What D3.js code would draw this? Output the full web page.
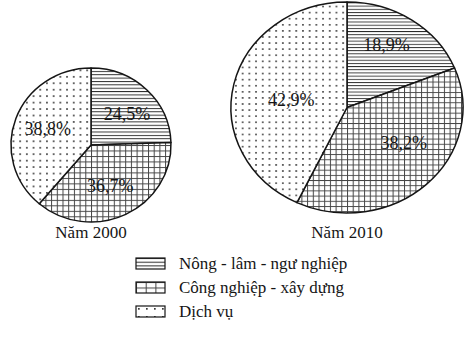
<!DOCTYPE html>
<html>
<head>
<meta charset="utf-8">
<script src="https://cdn.jsdelivr.net/npm/d3@7"></script>
<style>
  html, body { margin: 0; padding: 0; background: #fff; }
  svg { display: block; font-family: "Liberation Serif", "DejaVu Serif", serif; }
</style>
</head>
<body>
<div id="chart"></div>
<script>
// data
var years = ["Năm 2000", "Năm 2010"];
var sectors = ["Nông - lâm - ngư nghiệp", "Công nghiệp - xây dựng", "Dịch vụ"];
var values2000 = [24.5, 36.7, 38.8];
var values2010 = [18.9, 38.2, 42.9];

var width = 474, height = 341;
var ink = "#151515";

var svg = d3.select("#chart").append("svg")
    .attr("width", width)
    .attr("height", height)
    .attr("viewBox", [0, 0, width, height]);

var defs = svg.append("defs");

// hatch patterns
function stripes(id, gap) {
    var p = defs.append("pattern").attr("id", id)
        .attr("patternUnits", "userSpaceOnUse")
        .attr("width", 8).attr("height", gap);
    p.append("rect").attr("width", 8).attr("height", gap).attr("fill", "#fff");
    p.append("line").attr("x1", 0).attr("x2", 8).attr("y1", 0.5).attr("y2", 0.5)
        .attr("stroke", "#2a2a2a").attr("stroke-width", 1);
}
function grid(id, w, h) {
    var p = defs.append("pattern").attr("id", id)
        .attr("patternUnits", "userSpaceOnUse")
        .attr("width", w).attr("height", h);
    p.append("rect").attr("width", w).attr("height", h).attr("fill", "#fff");
    p.append("line").attr("x1", 0).attr("x2", w).attr("y1", 0.5).attr("y2", 0.5)
        .attr("stroke", "#444").attr("stroke-width", 1);
    p.append("line").attr("y1", 0).attr("y2", h).attr("x1", 0.5).attr("x2", 0.5)
        .attr("stroke", "#444").attr("stroke-width", 1);
}
function dots(id, s) {
    var p = defs.append("pattern").attr("id", id)
        .attr("patternUnits", "userSpaceOnUse")
        .attr("width", s).attr("height", s);
    p.append("rect").attr("width", s).attr("height", s).attr("fill", "#fff");
    p.append("rect").attr("x", 2).attr("y", 2).attr("width", 1.7).attr("height", 1.7)
        .attr("fill", "#3a3a3a");
}
stripes("p-nong", 3.5);
grid("p-cong", 5.7, 5.7);
dots("p-dv", 6.7);
stripes("l-nong", 3.7);
grid("l-cong", 9.7, 5.5);
dots("l-dv", 8);

var fills = ["url(#p-nong)", "url(#p-cong)", "url(#p-dv)"];
var legendFills = ["url(#l-nong)", "url(#l-cong)", "url(#l-dv)"];

var pie = d3.pie().sort(null).value(d => d);

// layout of the two pies (scanned circles are slightly oval)
var pies = [
    { year: years[0], values: values2000, cx: 91, cy: 145, rx: 80, ry: 77, titleY: 238,
      labels: [[0.45, -0.40], [0.24, 0.53], [-0.54, -0.21]] },
    { year: years[1], values: values2010, cx: 347, cy: 107.5, rx: 116, ry: 105.5, titleY: 238,
      labels: [[0.34, -0.59], [0.49, 0.34], [-0.48, -0.07]] }
];

var fmt = v => d3.format(".1f")(v).replace(".", ",") + "%";

pies.forEach(function (c) {
    var arc = d3.arc().innerRadius(0).outerRadius(c.rx);
    var g = svg.append("g")
        .attr("transform", "translate(" + c.cx + "," + c.cy + ") scale(1," + (c.ry / c.rx) + ")");
    g.selectAll("path")
        .data(pie(c.values))
        .join("path")
        .attr("d", arc)
        .attr("fill", (d, i) => fills[i])
        .attr("stroke", ink)
        .attr("stroke-width", 1.5)
        .attr("stroke-linejoin", "round")
        .attr("vector-effect", "non-scaling-stroke");

    svg.append("g").selectAll("text")
        .data(c.values)
        .join("text")
        .attr("x", (d, i) => c.cx + c.labels[i][0] * c.rx)
        .attr("y", (d, i) => c.cy + c.labels[i][1] * c.ry)
        .attr("text-anchor", "middle")
        .attr("dominant-baseline", "central")
        .attr("font-size", 18)
        .attr("fill", ink)
        .text(fmt);

    svg.append("text")
        .attr("x", c.cx)
        .attr("y", c.titleY)
        .attr("text-anchor", "middle")
        .attr("font-size", 17)
        .attr("fill", ink)
        .text(c.year);
});

// legend
var legend = svg.append("g").attr("transform", "translate(136,258)");
var row = legend.selectAll("g")
    .data(sectors)
    .join("g")
    .attr("transform", (d, i) => "translate(0," + (i * 24) + ")");
row.append("rect")
    .attr("width", 29)
    .attr("height", 11)
    .attr("fill", (d, i) => legendFills[i])
    .attr("stroke", ink)
    .attr("stroke-width", 1.2);
row.append("text")
    .attr("x", 43)
    .attr("y", 5.5)
    .attr("dominant-baseline", "central")
    .attr("font-size", 17)
    .attr("fill", ink)
    .text(d => d);
</script>
</body>
</html>
